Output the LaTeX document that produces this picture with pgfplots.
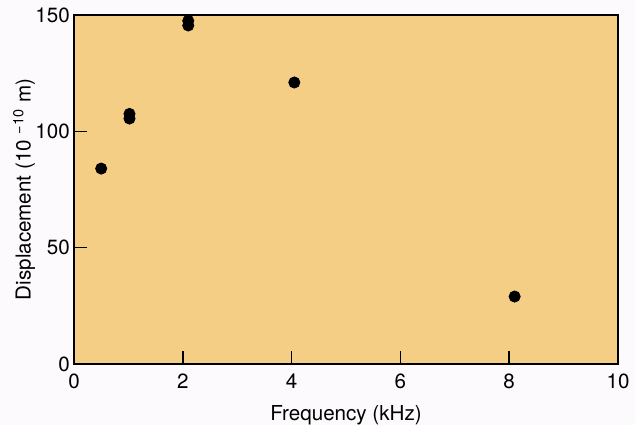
\documentclass[border=0pt]{standalone}
\usepackage{pgfplots}
\pgfplotsset{compat=1.18}
\usepackage{fontspec}
\setmainfont{TeX Gyre Heros}
\definecolor{plotbg}{RGB}{245,206,134}
\definecolor{pagebg}{RGB}{252,250,252}
\begin{document}
\fontsize{10.3}{12}\selectfont
\begin{tikzpicture}
\fill[pagebg] (-37pt,-30.5pt) rectangle (280.5pt,182pt);
\useasboundingbox (-37pt,-30.5pt) rectangle (280.5pt,182pt);
\begin{axis}[
  at={(0,0)}, anchor=south west,
  scale only axis,
  width=272pt, height=174.5pt,
  xmin=0, xmax=10, ymin=0, ymax=150,
  xtick={0,2,4,6,8,10},
  ytick={0,50,100,150},
  xtick pos=left, ytick pos=left,
  tick align=inside,
  major tick length=6.5pt,
  axis line style={line width=1pt, black},
  every tick/.style={black, line width=0.8pt},
  axis background/.style={fill=plotbg},
  /pgf/number format/assume math mode=true,
  ticklabel style={font=\fontsize{10.3}{12}\selectfont},
  xticklabel style={yshift=-1.5pt},
  yticklabel style={xshift=1.5pt},
  xlabel={Frequency (kHz)},
  ylabel={Displacement (10\,\textsuperscript{\,−10} m)},
  label style={font=\fontsize{10.3}{12}\selectfont},
  xlabel style={yshift=-1pt},
  ylabel style={yshift=-7pt},
]
\addplot[only marks, mark=*, mark size=2.8pt, black] coordinates {
  (0.5,84)
  (1.02,105.5)
  (1.02,107.5)
  (2.1,145.5)
  (2.1,147.5)
  (4.05,121)
  (8.1,29)
};
\end{axis}
\end{tikzpicture}
\end{document}
